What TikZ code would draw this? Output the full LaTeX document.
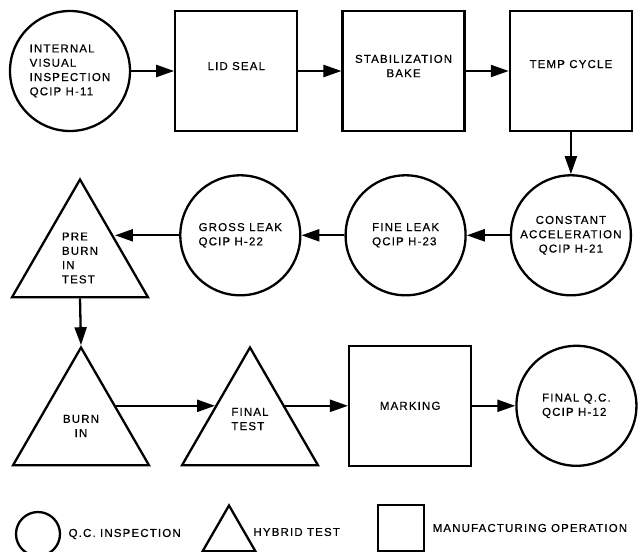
\documentclass[tikz,border=0pt]{standalone}
\usepackage{fontspec}
\setmainfont[LetterSpace=10,FakeBold=0.5]{Liberation Sans}
\usepackage{tikz}
\usetikzlibrary{shapes.geometric,chains,positioning,arrows.meta}

\begin{document}
\begin{tikzpicture}[x=1pt, y=-1pt, line width=2.3pt, font=\fontsize{11.5pt}{14.3pt}\selectfont, >={Triangle[length=18pt,width=12pt]}, node distance=43pt, start chain, qc/.style={circle, draw, minimum size=120pt, inner sep=0pt, align=left}, op/.style={rectangle, draw, minimum width=122pt, minimum height=120pt, align=center}, test/.style={regular polygon, regular polygon sides=3, draw, minimum size=157pt, inner sep=0pt, align=left}]
        \useasboundingbox (0,0) rectangle (638,552);
        % Nodes
        \node[qc,on chain] (V) at (70,71) {INTERNAL\\VISUAL\\INSPECTION\\QCIP H-11};
        \node[op,on chain,text depth=10pt] (L) {LID SEAL};
        \node[op,on chain,text depth=10pt] (S) {STABILIZATION\\BAKE};
        \node[op,on chain,text depth=14pt] (T) {TEMP CYCLE};
        \node[qc,align=center,below=42pt of T] (CA) {CONSTANT\\ACCELERATION\\QCIP H-21};
        \node[qc,left=of CA] (FL) {FINE LEAK\\QCIP H-23};
        \node[qc,left=of FL] (GL) {GROSS LEAK\\QCIP H-22};
        \node[test] (PB) at (80,258) {PRE\\BURN\\IN\\TEST};
        \node[test,align=center] (BI) at (81,426) {BURN\\IN};
        \node[test,text depth=14pt] (FT) at (250,426) {FINAL\\TEST};
        \node[op,right=63pt of FT.side 3] (M) {MARKING};
        \node[qc,right=of M] (QC) {FINAL Q.C.\\QCIP H-12};
        % Edges
        \draw[->] (V) -- (L);
        \draw[->] (L) -- (S);
        \draw[->] (S) -- (T);
        \draw[->] (T) -- (CA);
        \draw[->] (CA) -- (FL);
        \draw[->] (FL) -- (GL);
        \draw[->] (GL) -- (GL -| PB.side 3);
        \draw[->] (PB.side 2) -- (BI.corner 1);
        \draw[->] (BI.side 3) -- (FT.side 1);
        \draw[->] (FT.side 3) -- (M);
        \draw[->] (M) -- (QC);
        % Legend
        \node[qc,minimum size=44pt] (lq) at (38,534) {};
        \node[right=3pt of lq] (tq) {Q.C. INSPECTION};
        \node[test,minimum size=61pt] (lt) at (229,536) {};
        \node[anchor=west] (tt) at (249,532) {HYBRID TEST};
        \node[op,minimum width=46pt,minimum height=46pt] (lo) at (401,528) {};
        \node[right=3pt of lo] (to) {MANUFACTURING OPERATION};
    \end{tikzpicture}
\end{document}
